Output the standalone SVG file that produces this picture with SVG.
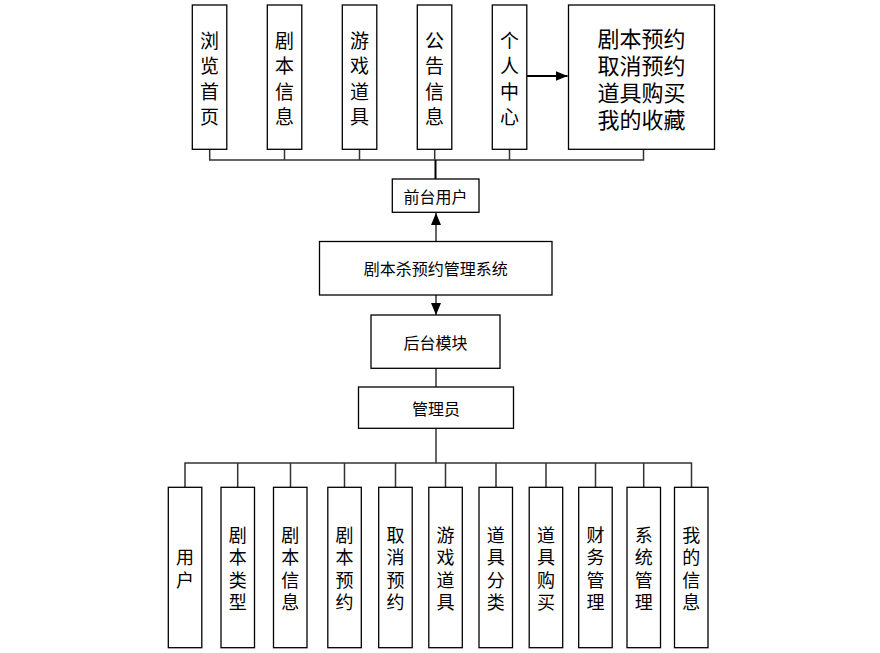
<svg xmlns="http://www.w3.org/2000/svg" width="880" height="653" viewBox="0 0 880 653">
<defs>
<style>
.box{fill:#fff;stroke:#000;stroke-width:1.3}
.t{font-family:"Noto Sans CJK SC","Noto Sans",sans-serif;fill:#000;text-anchor:middle;dominant-baseline:central}
.vt{font-size:18px}
.tt{font-size:19px}
.bt{font-size:22px}
.mt{font-size:16px}
.ln{stroke:#333;stroke-width:1.5;fill:none}
.lk{stroke:#000;stroke-width:2;fill:none}
</style>
<marker id="ah" viewBox="0 0 12 10" refX="12" refY="5" markerWidth="12" markerHeight="10" markerUnits="userSpaceOnUse" orient="auto">
<path d="M0,0 L12,5 L0,10 Z" fill="#000"/>
</marker>
</defs>
<g id="connectors">
<path class="ln" d="M209.7,149 V160 H643.5 V149 M284.5,149 V160 M359.5,149 V160 M434.7,149 V160 M509.5,149 V160"/>
<path class="lk" d="M435.5,160 V179"/>
<path class="lk" d="M527,76 H567.5" marker-end="url(#ah)"/>
<path class="ln" d="M436,241 V213" marker-end="url(#ah)"/>
<path class="ln" d="M436,295 V315" marker-end="url(#ah)"/>
<path class="ln" d="M436,368 V387"/>
<path class="ln" d="M436,428 V463"/>
<path class="ln" d="M185,487 V463 H691.5 V487 M237.7,463 V487 M290.5,463 V487 M344.5,463 V487 M395.5,463 V487 M445.5,463 V487 M496,463 V487 M546,463 V487 M595.5,463 V487 M643.7,463 V487"/>
</g>
<g id="n-browse"><rect class="box" x="192.3" y="5" width="34.5" height="144.3"/><text class="t tt"><tspan x="209.5" y="39">浏</tspan><tspan x="209.5" y="64.3">览</tspan><tspan x="209.5" y="89.7">首</tspan><tspan x="209.5" y="115">页</tspan></text></g>
<g id="n-script"><rect class="box" x="267.3" y="5" width="34.5" height="144.3"/><text class="t tt"><tspan x="284.5" y="39">剧</tspan><tspan x="284.5" y="64.3">本</tspan><tspan x="284.5" y="89.7">信</tspan><tspan x="284.5" y="115">息</tspan></text></g>
<g id="n-props"><rect class="box" x="342.3" y="5" width="34.5" height="144.3"/><text class="t tt"><tspan x="359.5" y="39">游</tspan><tspan x="359.5" y="64.3">戏</tspan><tspan x="359.5" y="89.7">道</tspan><tspan x="359.5" y="115">具</tspan></text></g>
<g id="n-notice"><rect class="box" x="417.3" y="5" width="34.5" height="144.3"/><text class="t tt"><tspan x="434.5" y="39">公</tspan><tspan x="434.5" y="64.3">告</tspan><tspan x="434.5" y="89.7">信</tspan><tspan x="434.5" y="115">息</tspan></text></g>
<g id="n-personal"><rect class="box" x="492.3" y="5" width="34.5" height="144.3"/><text class="t tt"><tspan x="509.5" y="39">个</tspan><tspan x="509.5" y="64.3">人</tspan><tspan x="509.5" y="89.7">中</tspan><tspan x="509.5" y="115">心</tspan></text></g>
<g id="n-personal-items"><rect class="box" x="568.5" y="5" width="146" height="144.3"/><text class="t bt"><tspan x="641.5" y="36.5">剧本预约</tspan><tspan x="641.5" y="63.5">取消预约</tspan><tspan x="641.5" y="90.5">道具购买</tspan><tspan x="641.5" y="117.5">我的收藏</tspan></text></g>
<g id="n-front"><rect class="box" x="392.3" y="179" width="86.7" height="33.3"/><text class="t mt" x="435.6" y="195.5">前台用户</text></g>
<g id="n-system"><rect class="box" x="319.5" y="241.5" width="232.5" height="53.5"/><text class="t mt" x="435.8" y="268.3">剧本杀预约管理系统</text></g>
<g id="n-back"><rect class="box" x="371" y="315" width="129" height="53.3"/><text class="t mt" x="435.5" y="341.7">后台模块</text></g>
<g id="n-admin"><rect class="box" x="358.5" y="387" width="155" height="41.3"/><text class="t mt" x="436" y="408.3">管理员</text></g>
<g id="n-user"><rect class="box" x="168.3" y="487.3" width="33.5" height="160.4"/><text class="t vt"><tspan x="185" y="556.3">用</tspan><tspan x="185" y="578.8">户</tspan></text></g>
<g id="n-type"><rect class="box" x="221" y="487.3" width="33.5" height="160.4"/><text class="t vt"><tspan x="237.7" y="533.8">剧</tspan><tspan x="237.7" y="556.3">本</tspan><tspan x="237.7" y="578.8">类</tspan><tspan x="237.7" y="601.3">型</tspan></text></g>
<g id="n-info"><rect class="box" x="273.5" y="487.3" width="33.5" height="160.4"/><text class="t vt"><tspan x="290.3" y="533.8">剧</tspan><tspan x="290.3" y="556.3">本</tspan><tspan x="290.3" y="578.8">信</tspan><tspan x="290.3" y="601.3">息</tspan></text></g>
<g id="n-reserve"><rect class="box" x="327.8" y="487.3" width="33.5" height="160.4"/><text class="t vt"><tspan x="344.5" y="533.8">剧</tspan><tspan x="344.5" y="556.3">本</tspan><tspan x="344.5" y="578.8">预</tspan><tspan x="344.5" y="601.3">约</tspan></text></g>
<g id="n-cancel"><rect class="box" x="378.7" y="487.3" width="33.5" height="160.4"/><text class="t vt"><tspan x="395.5" y="533.8">取</tspan><tspan x="395.5" y="556.3">消</tspan><tspan x="395.5" y="578.8">预</tspan><tspan x="395.5" y="601.3">约</tspan></text></g>
<g id="n-gameprops"><rect class="box" x="428.8" y="487.3" width="33.5" height="160.4"/><text class="t vt"><tspan x="445.5" y="533.8">游</tspan><tspan x="445.5" y="556.3">戏</tspan><tspan x="445.5" y="578.8">道</tspan><tspan x="445.5" y="601.3">具</tspan></text></g>
<g id="n-propcat"><rect class="box" x="479" y="487.3" width="33.5" height="160.4"/><text class="t vt"><tspan x="495.8" y="533.8">道</tspan><tspan x="495.8" y="556.3">具</tspan><tspan x="495.8" y="578.8">分</tspan><tspan x="495.8" y="601.3">类</tspan></text></g>
<g id="n-propbuy"><rect class="box" x="529.2" y="487.3" width="33.5" height="160.4"/><text class="t vt"><tspan x="546" y="533.8">道</tspan><tspan x="546" y="556.3">具</tspan><tspan x="546" y="578.8">购</tspan><tspan x="546" y="601.3">买</tspan></text></g>
<g id="n-finance"><rect class="box" x="578.7" y="487.3" width="33.5" height="160.4"/><text class="t vt"><tspan x="595.5" y="533.8">财</tspan><tspan x="595.5" y="556.3">务</tspan><tspan x="595.5" y="578.8">管</tspan><tspan x="595.5" y="601.3">理</tspan></text></g>
<g id="n-sysmgmt"><rect class="box" x="627" y="487.3" width="33.5" height="160.4"/><text class="t vt"><tspan x="643.7" y="533.8">系</tspan><tspan x="643.7" y="556.3">统</tspan><tspan x="643.7" y="578.8">管</tspan><tspan x="643.7" y="601.3">理</tspan></text></g>
<g id="n-myinfo"><rect class="box" x="674.5" y="487.3" width="33.5" height="160.4"/><text class="t vt"><tspan x="691.3" y="533.8">我</tspan><tspan x="691.3" y="556.3">的</tspan><tspan x="691.3" y="578.8">信</tspan><tspan x="691.3" y="601.3">息</tspan></text></g>
</svg>
